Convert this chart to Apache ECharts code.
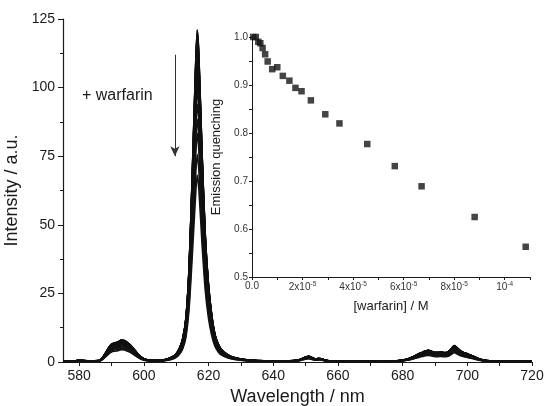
<!DOCTYPE html>
<html><head><meta charset="utf-8">
<script src="https://cdn.jsdelivr.net/npm/echarts@6/dist/echarts.min.js"></script>
<style>html,body{margin:0;padding:0;background:#fff}#c{width:547px;height:406px}</style>
</head><body><div id="c"></div>
<script>
// Wavelength grid (nm) of the emission spectrum
const wavelength = [575,578,580,583,586,587,588,589,590,591,592,593,594,595,596,597,598,599,600,602,605,607,609,610,611,612,613,614,615,616,616.5,617,618,619,620,621,622,623,624,626,628,631,635,640,645,648,650,651,652,653,654,655,656,658,665,672,678,680,682,683,684,685,686,687,688,689,690,691,692,693,694,695,696,697,698,699,700,702,704,706,710,715,720];
// Emission intensity before warfarin addition (top curve, a.u.)
const intensity0 = [0.3,0.3,0.6,0.4,0.5,1.2,3,5,6.5,7,7.3,8,7.8,7,6,4.6,3.2,2,1.2,0.6,0.6,1.0,2.0,3.0,5,8.5,16,35,70,108,121,112,76,46,28,17,10,6.5,4.5,2.6,1.6,0.9,0.5,0.4,0.4,0.8,1.8,2.1,1.6,1.1,1.3,1.2,0.7,0.3,0.3,0.3,0.4,0.7,1.3,1.8,2.4,3.0,3.5,4.0,4.3,3.9,3.5,3.5,3.6,3.4,3.7,4.8,6.0,5.0,4.0,3.4,3.0,2.0,1.0,0.5,0.3,0.3,0.3];
// Inset: warfarin concentration (M) and relative emission (quenching)
const warfarin = [0.05e-5,0.15e-5,0.25e-5,0.33e-5,0.42e-5,0.52e-5,0.62e-5,0.8e-5,1.0e-5,1.22e-5,1.48e-5,1.72e-5,1.96e-5,2.33e-5,2.9e-5,3.46e-5,4.56e-5,5.65e-5,6.71e-5,8.81e-5,10.83e-5];
const quenching = [1.0,1.0,0.99,0.987,0.977,0.964,0.949,0.933,0.937,0.919,0.909,0.894,0.887,0.868,0.839,0.82,0.777,0.731,0.689,0.625,0.563];
// Tick values
const mainXLabels = [580,600,620,640,660,680,700,720];
const mainXTicks = [580,590,600,610,620,630,640,650,660,670,680,690,700,710,720];
const insetXLabels = [0,2e-5,4e-5,6e-5,8e-5,1e-4];
const insetXTicks = [0,1e-5,2e-5,3e-5,4e-5,5e-5,6e-5,7e-5,8e-5,9e-5,1e-4,1.1e-4];
const insetYLabels = [0.5,0.6,0.7,0.8,0.9,1.0];
const insetYTicks = [0.5,0.55,0.6,0.65,0.7,0.75,0.8,0.85,0.9,0.95,1.0];

const FONT = 'Liberation Sans, Arial, sans-serif';
const INK = '#1a1a1a';

const chart = echarts.init(document.getElementById('c'), null, {renderer:'canvas'});

// each titration step: the spectrum scaled by its measured relative emission
const spectraSeries = quenching.map((q, k) => ({
  type: 'line', xAxisIndex: 0, yAxisIndex: 0,
  data: wavelength.map((w, i) => [w, intensity0[i] * q]),
  symbol: 'none', smooth: 0.25, silent: true,
  lineStyle: {color: '#111', width: 1.6},
  z: 2,
  markLine: k === 0 ? {
    silent: true, symbol: ['none', 'arrow'], symbolSize: [7, 10],
    label: {show: false},
    lineStyle: {color: '#333', width: 1, type: 'solid'},
    data: [[{coord: [609.6, 112]}, {coord: [609.6, 75]}]]
  } : undefined
}));

const sup = {sup: {fontSize: 6.5, verticalAlign: 'top', padding: [0,0,6,0], color: '#333', fontFamily: FONT}};

chart.setOption({
  animation: false,
  backgroundColor: '#fff',
  grid: [
    {left: 63, right: 15, top: 19, bottom: 44, containLabel: false, outerBoundsMode: 'none'},
    {left: 252, right: 17, top: 37, bottom: 129, containLabel: false, outerBoundsMode: 'none'}
  ],
  xAxis: [
    {
      type: 'value', gridIndex: 0, min: 575, max: 720,
      name: 'Wavelength / nm', nameLocation: 'middle', nameGap: 22,
      nameTextStyle: {fontFamily: FONT, fontSize: 18, color: INK},
      axisLine: {show: true, onZero: false, lineStyle: {color: INK, width: 1.2}},
      axisTick: {show: true, inside: false, length: 4, customValues: mainXTicks, lineStyle: {color: INK}},
      axisLabel: {customValues: mainXLabels, fontFamily: FONT, fontSize: 14, color: INK, margin: 7},
      splitLine: {show: false}
    },
    {
      type: 'value', gridIndex: 1, min: 0, max: 1.1e-4,
      name: '[warfarin] / M', nameLocation: 'middle', nameGap: 23,
      nameTextStyle: {fontFamily: FONT, fontSize: 13, color: INK},
      axisLine: {show: true, onZero: false, lineStyle: {color: INK, width: 1}},
      axisTick: {show: true, length: 3, customValues: insetXTicks, lineStyle: {color: INK}},
      axisLabel: {
        customValues: insetXLabels, fontFamily: FONT, fontSize: 10, color: '#333', margin: 4,
        formatter: v => {
          if (v === 0) return '0.0';
          const m = Math.round(v * 1e5);
          if (m === 10) return '10{sup|-4}';
          return m + 'x10{sup|-5}';
        },
        rich: sup
      },
      splitLine: {show: false}
    }
  ],
  yAxis: [
    {
      type: 'value', gridIndex: 0, min: 0, max: 125, interval: 25,
      name: 'Intensity / a.u.', nameLocation: 'middle', nameGap: 36,
      nameTextStyle: {fontFamily: FONT, fontSize: 18, color: INK},
      axisLine: {show: true, onZero: false, lineStyle: {color: INK, width: 1.2}},
      axisTick: {show: true, length: 5, lineStyle: {color: INK}},
      minorTick: {show: true, splitNumber: 2, length: 3, lineStyle: {color: INK}},
      axisLabel: {fontFamily: FONT, fontSize: 14, color: INK, margin: 8},
      splitLine: {show: false}
    },
    {
      type: 'value', gridIndex: 1, min: 0.5, max: 1.0,
      name: 'Emission quenching', nameLocation: 'middle', nameGap: 23,
      nameTextStyle: {fontFamily: FONT, fontSize: 13, color: INK},
      axisLine: {show: true, onZero: false, lineStyle: {color: INK, width: 1}},
      axisTick: {show: true, length: 3, customValues: insetYTicks, lineStyle: {color: INK}},
      axisLabel: {customValues: insetYLabels, fontFamily: FONT, fontSize: 10, color: '#333', margin: 4,
        formatter: v => v.toFixed(1)},
      splitLine: {show: false}
    }
  ],
  series: spectraSeries.concat([
    {
      type: 'scatter', xAxisIndex: 1, yAxisIndex: 1,
      data: warfarin.map((c, i) => [c, quenching[i]]),
      symbol: 'rect', symbolSize: 6.5, silent: true,
      itemStyle: {color: '#151515'}, z: 5
    }
  ]),
  graphic: [
    {type: 'text', left: 82, top: 88, silent: true,
     style: {text: '+ warfarin', font: '16px ' + FONT, fill: INK}}
  ]
});
</script></body></html>
